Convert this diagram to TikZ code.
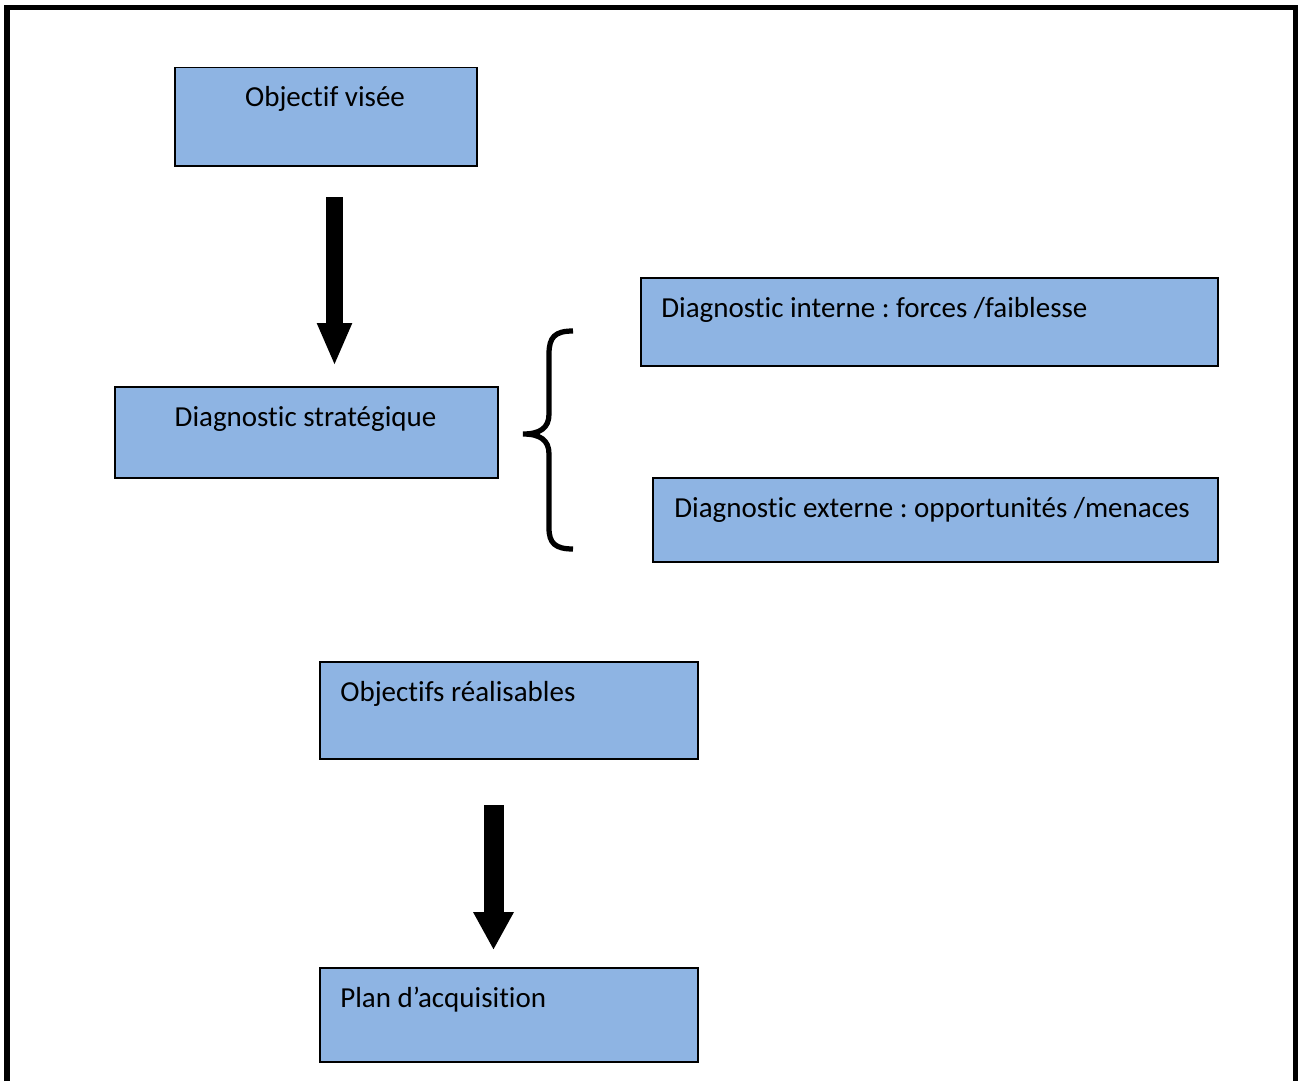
\documentclass[tikz,border=0pt]{standalone}
\usepackage{fontspec}
\setmainfont[Ligatures=NoCommon]{Carlito}
\usetikzlibrary{arrows.meta}
\definecolor{BoxBlue}{HTML}{8EB4E3}
\tikzset{
    stepbox/.style={draw, line width=0.3mm, fill=BoxBlue, anchor=north west, inner sep=0pt},
    boxtext/.style={font=\fontsize{16.5}{20}\selectfont, inner sep=0pt},
    arrowA/.style={line width=3.3mm, -{Triangle[width=6.4mm, length=8.6mm]}},
    arrowB/.style={line width=4mm, -{Triangle[width=7.6mm, length=7.6mm]}}
}
\frenchspacing
\begin{document}
\begin{tikzpicture}[x=0.2mm, y=-0.2mm]
    \useasboundingbox (0,0) rectangle (1298,1081);
    % cadre
    \draw[line width=1.1mm] (7,1081) -- (7,7.5) -- (1295.7,7.5) -- (1295.7,1081);
    % boites
    \node[stepbox, minimum width=60.4mm, minimum height=19.6mm] (obj) at (174,67) {};
    \node[stepbox, minimum width=76.6mm, minimum height=18.2mm] (diag) at (114,386) {};
    \node[stepbox, minimum width=115.4mm, minimum height=17.6mm] (dint) at (640,277) {};
    \node[stepbox, minimum width=113mm, minimum height=16.8mm] (dext) at (652,477) {};
    \node[stepbox, minimum width=75.6mm, minimum height=19.4mm] (real) at (319,661) {};
    \node[stepbox, minimum width=75.6mm, minimum height=18.8mm] (plan) at (319,967) {};
    % textes
    \node[boxtext, anchor=base] (tobj) at (325,107) {Objectif visée};
    \node[boxtext, anchor=base] (tdiag) at (305.5,426) {Diagnostic stratégique};
    \node[boxtext, anchor=base west] (tdint) at (661,317) {Diagnostic interne : forces /faiblesse};
    \node[boxtext, anchor=base west] (tdext) at (674,517) {Diagnostic externe : opportunités /menaces};
    \node[boxtext, anchor=base west] (treal) at (340,701) {Objectifs réalisables};
    \node[boxtext, anchor=base west] (tplan) at (340,1007) {Plan d’acquisition};
    % fleches
    \coordinate (a1s) at (334.5,197);
    \coordinate (a1e) at (334.5,366);
    \coordinate (a2s) at (493.5,805);
    \coordinate (a2e) at (493.5,950);
    \draw[arrowA] (a1s) -- (a1e);
    \draw[arrowB] (a2s) -- (a2e);
    % accolade
    \draw[line width=1.05mm] (573,331) .. controls (555,331) and (549,337) .. (549,354)
        -- (549,414) .. controls (549,428) and (540,434) .. (523,434)
        .. controls (540,434) and (549,440) .. (549,454)
        -- (549,528) .. controls (549,543) and (555,549) .. (573,549);
\end{tikzpicture}
\end{document}
